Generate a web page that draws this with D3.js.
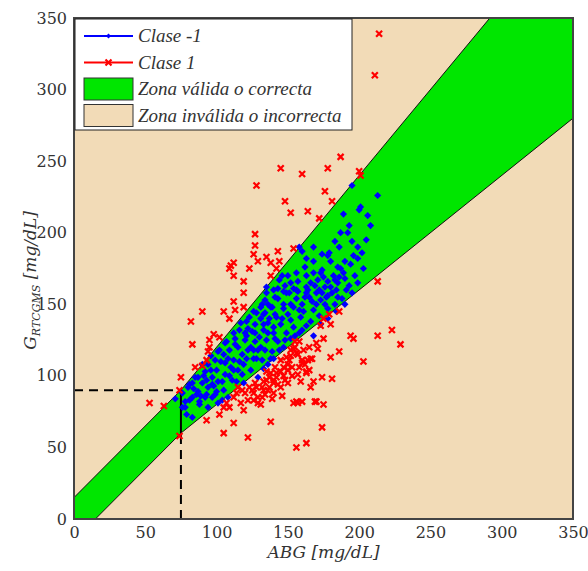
<!DOCTYPE html>
<html>
<head>
<meta charset="utf-8">
<script src="https://cdn.jsdelivr.net/npm/d3@7/dist/d3.min.js"></script>
<style>
  html, body { margin: 0; padding: 0; background: #ffffff; }
  svg { display: block; }
  text { font-family: "DejaVu Serif", "Liberation Serif", serif; fill: #333; }
</style>
</head>
<body>
<script>
// Axis ticks (mg/dL)
const xTicks = [0, 50, 100, 150, 200, 250, 300, 350];
const yTicks = [0, 50, 100, 150, 200, 250, 300, 350];

// Valid-zone boundaries: ±15 mg/dL below 75, ±20 % above
const zoneUpper = [[0, 15], [75, 90], [291.67, 350]];
const zoneLower = [[15, 0], [75, 60], [350, 280]];
const zonePolygon = [[0, 0], [0, 15], [75, 90], [291.67, 350], [350, 350], [350, 280], [75, 60], [15, 0]];
const refPoint = [75, 90];

// Clase -1 : [ABG, G_RTCGMS]
const clase1Neg = [
  [195,233],[213,226],[201,218],[200,216],[189,213],[206,212],[187,200],[192,200],[183,194],[195,194],
  [168,190],[158,190],[160,187],[199,190],[202,186],[196,184],[199,182],[178,184],[179,186],[163,182],
  [168,180],[190,180],[187,175],[185,176],[174,174],[173,172],[182,170],[183,167],[190,168],[163,170],
  [150,170],[157,166],[171,167],[175,169],[186,169],[193,163],[144,167],[148,163],[169,163],[163,162],
  [180,162],[184,160],[154,161],[143,161],[147,159],[151,158],[157,159],[164,160],[162,155],[135,158],
  [143,154],[177,155],[188,154],[174,158],[167,152],[176,150],[160,150],[147,150],[139,148],[183,150],
  [135,162],[166,165],[178,166],[178,156],[173,153],[163,158],[156,154],[149,158],[141,155],[134,153],
  [154,148],[168,146],[159,141],[150,143],[142,141],[134,144],[136,137],[145,136],[154,134],[149,130],
  [140,130],[133,132],[135,125],[143,124],[134,118],[139,117],[132,111],[133,105],[132,150],[128,144],
  [141,143],[123,141],[121,138],[127,136],[133,136],[140,134],[116,132],[125,131],[136,130],[130,127],
  [141,126],[113,126],[120,125],[127,124],[106,123],[115,120],[109,118],[122,118],[129,118],[101,117],
  [105,115],[118,115],[126,112],[112,111],[99,111],[106,109],[119,108],[94,108],[100,104],[112,104],
  [90,108],[92,103],[106,101],[118,101],[97,99],[85,99],[101,96],[111,97],[90,95],[83,95],
  [80,92],[94,92],[105,90],[87,89],[76,88],[99,87],[92,85],[83,85],[108,85],[88,82],
  [78,82],[101,81],[94,78],[87,99],[100,89],[93,87],[86,87],[97,85],[104,83],[81,83],
  [88,80],[78,78],[71,84],[76,78],[79,73],[83,71],[81,94],[133,143],[138,148],[147,147],
  [170,158],[156,160],[161,145],[127,130],[121,128],[113,122],[108,112],[115,104],[97,94],[152,139],
  [120,130],[124,120],[128,112],[131,140],[137,140],[146,140],[152,150],[158,146],[165,155],[170,150],
  [172,160],[176,162],[181,158],[185,165],[189,172],[194,178],[197,170],[191,160],[185,155],[178,147],
  [172,142],[166,138],[160,132],[155,128],[148,125],[144,118],[138,112],[131,120],[126,118],[121,112],
  [116,110],[110,106],[104,96],[98,93],[93,97],[89,86],[84,91],[96,104],[103,110],[109,100],
  [114,96],[119,95],[124,104],[129,99],[136,108],[140,112],[147,120],[152,126],[158,130],[163,135],
  [168,128],[173,136],[178,140],[184,145],[190,150],[195,158],[199,165],[203,175],[205,195],[208,205],
  [193,205],[186,190],[180,180],[174,185],[168,172],[162,176],[156,172],[152,165],[146,170],[140,160],
  [136,150],[131,148],[126,145],[122,133],[117,137],[112,130],[107,124],[102,118],[96,114],[91,100]
];

// Clase 1 : [ABG, G_RTCGMS]
const clase1Pos = [
  [214,339],[211,310],[187,253],[145,245],[160,241],[178,245],[200,243],[201,240],[176,229],[148,222],
  [181,222],[152,214],[164,215],[172,210],[154,189],[143,187],[135,183],[144,180],[138,179],[142,175],
  [138,170],[128,233],[127,199],[127,191],[126,185],[129,180],[110,177],[112,179],[109,175],[123,175],
  [112,170],[213,166],[119,166],[119,158],[112,152],[113,146],[119,148],[90,145],[105,145],[109,140],
  [82,138],[98,129],[95,125],[102,127],[83,122],[95,120],[94,117],[93,111],[85,106],[90,107],
  [75,99],[74,90],[53,81],[63,79],[74,58],
  [186,145],[179,143],[175,140],[180,136],[173,135],[194,128],[196,126],[213,128],[171,119],[186,117],
  [180,113],[166,112],[203,110],[154,119],[157,115],[160,111],[151,111],[163,103],[174,99],[181,98],
  [168,96],[166,92],[157,101],[147,106],[142,102],[148,97],[140,97],[135,103],[133,90],[137,92],
  [154,81],[157,81],[160,82],[169,82],[132,85],[115,92],[120,88],[125,90],[129,85],[122,83],
  [112,85],[107,81],[109,78],[105,78],[132,92],[135,97],[138,102],[141,106],[145,111],[149,113],
  [152,118],[155,120],[156,116],[155,124],[160,109],[163,102],[164,111],[167,112],[159,96],[170,82],
  [156,82],[142,99],[145,92],[140,95],[136,90],[134,87],[129,81],[127,95],[119,76],[102,73],
  [93,69],[112,67],[138,68],[105,60],[122,57],[156,50],[163,53],[175,80],[174,64],[223,132],
  [229,122],[145,103],[150,108],[153,100],[126,88],[117,81],
  [140,88],[143,94],[147,100],[150,104],[153,106],[158,106],[162,108],[165,104],[150,95],[146,86],
  [139,84],[131,80],[126,83],[123,92],[118,90],[114,88],[137,99],[133,96],[128,92],[161,118],
  [165,120],[170,123],[175,126],[158,124],[152,114]
];

const W = 588, H = 571;
const plot = { left: 74, right: 573, top: 18, bottom: 519 };

const svg = d3.select("body").append("svg").attr("width", W).attr("height", H);

const x = d3.scaleLinear().domain([0, 350]).range([plot.left, plot.right]);
const y = d3.scaleLinear().domain([0, 350]).range([plot.bottom, plot.top]);

const clipId = "plot-clip";
svg.append("clipPath").attr("id", clipId)
  .append("rect")
  .attr("x", plot.left).attr("y", plot.top)
  .attr("width", plot.right - plot.left).attr("height", plot.bottom - plot.top);

// Invalid zone background
svg.append("rect")
  .attr("x", plot.left).attr("y", plot.top)
  .attr("width", plot.right - plot.left).attr("height", plot.bottom - plot.top)
  .attr("fill", "#f2dbb7");

const g = svg.append("g").attr("clip-path", `url(#${clipId})`);
const line = d3.line().x(d => x(d[0])).y(d => y(d[1]));

// Valid zone
g.append("path").attr("d", line(zonePolygon) + "Z").attr("fill", "#00e600");
g.append("path").attr("d", line(zoneUpper)).attr("fill", "none").attr("stroke", "#111").attr("stroke-width", 1);
g.append("path").attr("d", line(zoneLower)).attr("fill", "none").attr("stroke", "#111").attr("stroke-width", 1);

// Reference guides at (75, 90)
g.append("path").attr("d", line([[0, refPoint[1]], refPoint]))
  .attr("stroke", "#000").attr("stroke-width", 2).attr("stroke-dasharray", "9,6").attr("fill", "none");
g.append("path").attr("d", line([[refPoint[0], 0], [refPoint[0], 60]]))
  .attr("stroke", "#000").attr("stroke-width", 2).attr("stroke-dasharray", "9,6").attr("fill", "none");
g.append("path").attr("d", line([[refPoint[0], 60], refPoint]))
  .attr("stroke", "#000").attr("stroke-width", 2).attr("fill", "none");

// Clase -1 markers (diamond dots)
const dia = 3.6;
g.append("g").selectAll("path").data(clase1Neg).join("path")
  .attr("d", d => `M${x(d[0])},${y(d[1]) - dia}L${x(d[0]) + dia},${y(d[1])}L${x(d[0])},${y(d[1]) + dia}L${x(d[0]) - dia},${y(d[1])}Z`)
  .attr("fill", "#0000ff");

// Clase 1 markers (crosses)
const cr = 3;
g.append("g").selectAll("path").data(clase1Pos).join("path")
  .attr("d", d => `M${x(d[0]) - cr},${y(d[1]) - cr}L${x(d[0]) + cr},${y(d[1]) + cr}M${x(d[0]) - cr},${y(d[1]) + cr}L${x(d[0]) + cr},${y(d[1]) - cr}`)
  .attr("stroke", "#ff0000").attr("stroke-width", 2.2).attr("fill", "none");

// Axes
const xAxis = d3.axisBottom(x).tickValues(xTicks).tickSize(0).tickPadding(8);
const yAxis = d3.axisLeft(y).tickValues(yTicks).tickSize(0).tickPadding(7);

const gx = svg.append("g").attr("transform", `translate(0,${plot.bottom})`).call(xAxis);
const gy = svg.append("g").attr("transform", `translate(${plot.left},0)`).call(yAxis);
[gx, gy].forEach(a => {
  a.select(".domain").remove();
  a.selectAll("text").style("font-family", "DejaVu Serif, serif").style("font-size", "16px").attr("fill", "#333");
});

// Frame
svg.append("rect")
  .attr("x", plot.left).attr("y", plot.top)
  .attr("width", plot.right - plot.left).attr("height", plot.bottom - plot.top)
  .attr("fill", "none").attr("stroke", "#444").attr("stroke-width", 2);

// Axis titles
svg.append("text")
  .attr("x", (plot.left + plot.right) / 2).attr("y", 558)
  .attr("text-anchor", "middle")
  .style("font-style", "italic").style("font-size", "17px")
  .text("ABG [mg/dL]");

const yl = svg.append("text")
  .attr("transform", `translate(36,${(plot.top + plot.bottom) / 2 + 12}) rotate(-90)`)
  .attr("text-anchor", "middle")
  .style("font-style", "italic").style("font-size", "17px");
yl.append("tspan").text("G");
yl.append("tspan").attr("dy", 4).style("font-size", "11px").text("RTCGMS");
yl.append("tspan").attr("dy", -4).text(" [mg/dL]");

// Legend
const lg = svg.append("g");
lg.append("rect").attr("x", 75).attr("y", 19).attr("width", 277).attr("height", 111)
  .attr("fill", "#ffffff").attr("stroke", "#222").attr("stroke-width", 1);

const legendItems = [
  { label: "Clase -1", kind: "line", color: "#0000ff" },
  { label: "Clase 1", kind: "line", color: "#ff0000" },
  { label: "Zona válida o correcta", kind: "patch", color: "#00e600" },
  { label: "Zona inválida o incorrecta", kind: "patch", color: "#f2dbb7" }
];
legendItems.forEach((it, i) => {
  const cy = 36 + i * 26.5;
  if (it.kind === "line") {
    lg.append("line").attr("x1", 84).attr("x2", 133).attr("y1", cy).attr("y2", cy)
      .attr("stroke", it.color).attr("stroke-width", 2);
    if (i === 0) {
      lg.append("path").attr("d", `M108.5,${cy - 2.5}L111,${cy}L108.5,${cy + 2.5}L106,${cy}Z`).attr("fill", it.color);
    } else {
      lg.append("path").attr("d", `M105.5,${cy - 3}L111.5,${cy + 3}M105.5,${cy + 3}L111.5,${cy - 3}`)
        .attr("stroke", it.color).attr("stroke-width", 2.2);
    }
  } else {
    lg.append("rect").attr("x", 84).attr("y", cy - 11).attr("width", 49).attr("height", 22)
      .attr("fill", it.color).attr("stroke", "#333").attr("stroke-width", 1);
  }
  lg.append("text").attr("x", 138).attr("y", cy + 6)
    .style("font-family", "Liberation Serif, serif")
    .style("font-style", "italic").style("font-size", "19px")
    .text(it.label);
});
</script>
</body>
</html>
